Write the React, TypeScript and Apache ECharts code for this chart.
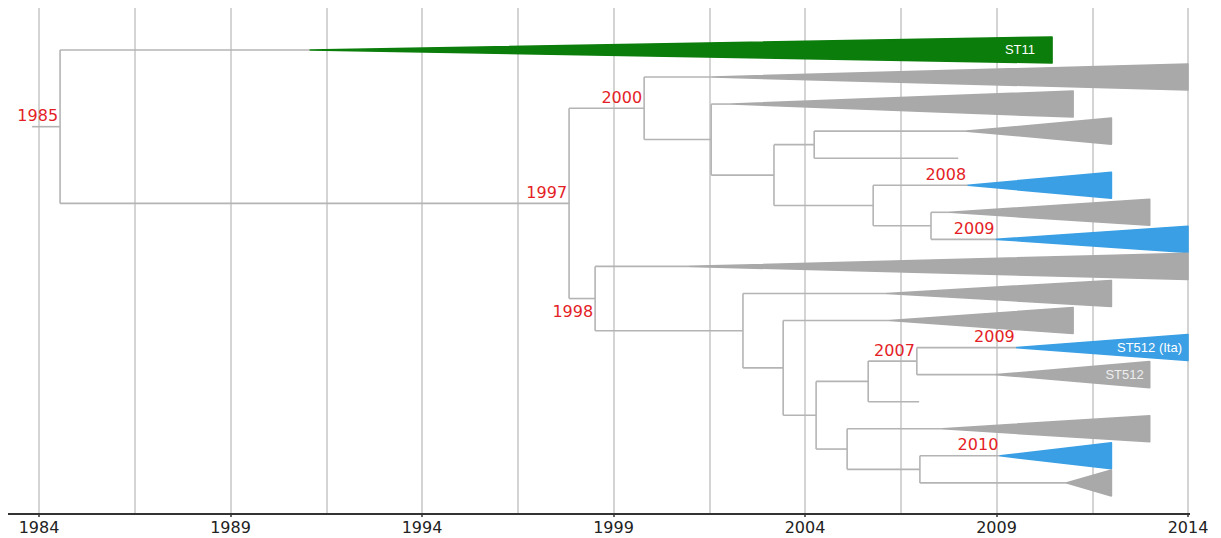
import { useEffect, useRef } from "react";
import * as echarts from "echarts";

// ---- axis ----
const axisStartYear = 1984;
const axisEndYear = 2014;
const tickStep = 5;

// ---- leaves (top to bottom) ----
// apex year of each collapsed clade (null = plain tip line)
const leafStart: (number | null)[] = [
  1991.08, 2001.6, 2002.1, 2008.23, null, 2008.26, 2007.79, 2009.0, 2001.0,
  2006.14, 2006.22, 2009.53, 2009.0, null, 2007.6, 2009.1, 2010.84,
];
// right end year of each clade / tip
const leafEnd = [
  2010.45, 2014.0, 2011.0, 2012.0, 2008.0, 2012.0, 2013.0, 2014.0, 2014.0,
  2012.0, 2011.0, 2014.0, 2013.0, 2006.98, 2013.0, 2012.0, 2012.0,
];
const leafKind = [
  "green", "gray", "gray", "gray", "line", "blue", "gray", "blue", "gray",
  "gray", "gray", "blue", "gray", "line", "gray", "blue", "gray",
];
const leafText = [
  "ST11", "", "", "", "", "", "", "", "", "", "", "ST512 (Ita)", "ST512", "", "", "", "",
];

// ---- internal nodes ----
const nodeNames = [
  "root", "n1997", "n2000", "nA", "nB", "nC", "nD", "nE",
  "n1998", "nF", "nG", "nH", "nI", "nK", "nJ", "nL",
];
const nodeYears = [
  1984.55, 1997.84, 1999.8, 2001.55, 2003.19, 2004.24, 2005.78, 2007.29,
  1998.52, 2002.38, 2003.43, 2004.29, 2005.65, 2006.92, 2005.1, 2007.0,
];
const nodeChildren = [
  ["L0", "n1997"], ["n2000", "n1998"], ["L1", "nA"], ["L2", "nB"], ["nC", "nD"],
  ["L3", "L4"], ["L5", "nE"], ["L6", "L7"], ["L8", "nF"], ["L9", "nG"],
  ["L10", "nH"], ["nI", "nJ"], ["nK", "L13"], ["L11", "L12"], ["L14", "nL"],
  ["L15", "L16"],
];
const rootStubYear = 1983.82;

// ---- date labels: text, anchor, side ----
const dateLabelText = ["1985", "1997", "2000", "1998", "2007", "2008", "2009", "2009", "2010"];
const dateLabelRef = ["root", "n1997", "n2000", "n1998", "nK", "L5", "L7", "L11", "L15"];
const dateLabelSide = ["above", "above", "above", "below", "above", "above", "above", "above", "above"];

const kindColor: Record<string, string> = {
  green: "#0b7d0b",
  gray: "#a9a9a9",
  blue: "#3a9fe4",
};
const cladeTextInset: Record<string, number> = { ST11: 17 };
const cladeTextColor: Record<string, string> = { ST11: "#ffffff", "ST512 (Ita)": "#ffffff", ST512: "#eeeeee" };

function layout() {
  const pos: Record<string, { x: number; y: number }> = {};
  leafEnd.forEach((e, i) => {
    const s = leafStart[i];
    pos["L" + i] = { x: s == null ? e : s, y: i };
  });
  const nodePos = (name: string): { x: number; y: number } => {
    if (pos[name]) return pos[name];
    const i = nodeNames.indexOf(name);
    const ch = nodeChildren[i].map(nodePos);
    pos[name] = { x: nodeYears[i], y: (ch[0].y + ch[ch.length - 1].y) / 2 };
    return pos[name];
  };
  nodePos("root");
  return pos;
}

export default function App() {
  const ref = useRef<HTMLDivElement>(null);
  useEffect(() => {
    if (!ref.current) return;
    const chart = echarts.init(ref.current, undefined, { renderer: "svg" });
    const pos = layout();
    const off = (yr: number) => yr - axisStartYear;

    const segs: number[][] = [];
    const root = pos["root"];
    segs.push([off(rootStubYear), root.y, off(root.x), root.y]);
    nodeNames.forEach((n, i) => {
      const p = pos[n];
      const ch = nodeChildren[i].map((c) => pos[c]);
      const ys = ch.map((c) => c.y);
      segs.push([off(p.x), Math.min(...ys), off(p.x), Math.max(...ys)]);
      ch.forEach((c) => segs.push([off(p.x), c.y, off(c.x), c.y]));
    });

    const cladeIdx: number[] = [];
    leafKind.forEach((k, i) => {
      if (k !== "line") cladeIdx.push(i);
    });
    const cladeData = cladeIdx.map((i) => [off(leafStart[i] as number), i, off(leafEnd[i])]);
    const textIdx = leafText.map((t, i) => (t ? i : -1)).filter((i) => i >= 0);
    const textData = textIdx.map((i) => [off(leafEnd[i]), i]);
    const dateData = dateLabelRef.map((r) => [off(pos[r].x), pos[r].y]);

    const grid = { left: 39, right: 33, top: 8, bottom: 24 };

    chart.setOption({
      animation: false,
      grid,
      xAxis: {
        type: "value",
        min: 0,
        max: axisEndYear - axisStartYear,
        interval: tickStep,
        axisLine: { show: false, onZero: false },
        axisTick: { show: true, length: 3, lineStyle: { color: "#333", width: 1.5 } },
        axisLabel: {
          formatter: (v: number) => String(axisStartYear + v),
          fontFamily: "DejaVu Sans",
          fontSize: 16,
          color: "#222",
          margin: 5,
        },
        splitLine: { show: true, lineStyle: { color: "#c6c6c6", width: 1.5 } },
        minorTick: { show: false, splitNumber: 2 },
        minorSplitLine: { show: true, lineStyle: { color: "#c6c6c6", width: 1.5 } },
      },
      yAxis: {
        type: "value",
        inverse: true,
        min: -1.55,
        max: 17.15,
        show: false,
      },
      graphic: [
        {
          type: "line",
          shape: { x1: 8, y1: 514, x2: 1190, y2: 514 },
          style: { stroke: "#333", lineWidth: 2 },
          z: 10,
        },
      ],
      series: [
        {
          type: "custom",
          name: "branches",
          data: segs,
          z: 2,
          renderItem: (params: any, api: any) => {
            const a = api.coord([api.value(0), api.value(1)]);
            const b = api.coord([api.value(2), api.value(3)]);
            return {
              type: "line",
              shape: { x1: a[0], y1: a[1], x2: b[0], y2: b[1] },
              style: { stroke: "#b4b4b4", lineWidth: 1.6 },
            };
          },
        },
        {
          type: "custom",
          name: "clades",
          data: cladeData,
          z: 3,
          renderItem: (params: any, api: any) => {
            const i = cladeIdx[params.dataIndex];
            const c = kindColor[leafKind[i]];
            const apex = api.coord([api.value(0), api.value(1)]);
            const top = api.coord([api.value(2), api.value(1) - 0.48]);
            const bot = api.coord([api.value(2), api.value(1) + 0.48]);
            return {
              type: "polygon",
              shape: { points: [apex, top, bot] },
              style: { fill: c, stroke: c, lineWidth: 1.6, lineJoin: "round" },
            };
          },
        },
        {
          type: "custom",
          name: "cladeText",
          data: textData,
          z: 4,
          renderItem: (params: any, api: any) => {
            const i = textIdx[params.dataIndex];
            const t = leafText[i];
            const p = api.coord([api.value(0), api.value(1)]);
            return {
              type: "text",
              x: p[0] - (cladeTextInset[t] ?? 6),
              y: p[1],
              style: {
                text: t,
                fill: cladeTextColor[t] ?? "#fff",
                font: "13px 'Liberation Sans', Arial, sans-serif",
                align: "right",
                verticalAlign: "middle",
              },
            };
          },
        },
        {
          type: "custom",
          name: "dates",
          data: dateData,
          z: 5,
          renderItem: (params: any, api: any) => {
            const k = params.dataIndex;
            const p = api.coord([api.value(0), api.value(1)]);
            const below = dateLabelSide[k] === "below";
            return {
              type: "text",
              x: p[0] - 2,
              y: below ? p[1] + 5 : p[1] - 3,
              style: {
                text: dateLabelText[k],
                fill: "#e41e26",
                font: "16px 'DejaVu Sans', sans-serif",
                align: "right",
                verticalAlign: below ? "top" : "bottom",
              },
            };
          },
        },
      ],
    });
    return () => chart.dispose();
  }, []);
  return (
    <div
      ref={ref}
      style={{ position: "fixed", left: 0, top: 0, width: 1221, height: 538, background: "#fff" }}
    />
  );
}
